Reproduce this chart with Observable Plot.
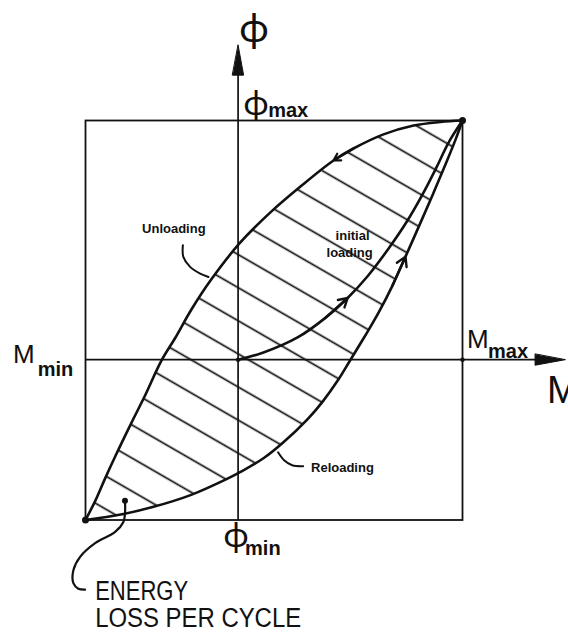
<!DOCTYPE html>
<html>
<head>
<meta charset="utf-8">
<script src="https://cdn.jsdelivr.net/npm/d3@7"></script>
<script src="https://cdn.jsdelivr.net/npm/@observablehq/plot@0.6"></script>
<style>
  html, body { margin: 0; padding: 0; background: #fff; }
  #chart svg { display: block; }
</style>
</head>
<body>
<div id="chart"></div>
<script>
// Moment–curvature hysteresis loop, normalised so that M_max = φ_max = 1.
const M_MIN = -0.68, M_MAX = 1.0;
const PHI_MIN = -0.67, PHI_MAX = 1.0;
const M_AXIS_END = 1.457;    // tip of the M axis arrow
const PHI_AXIS_END = 1.315;  // tip of the φ axis arrow

// Unloading branch: from (M_max, φ_max) down to (M_min, φ_min)
const unloadingM   = [1.0, 0.902, 0.782, 0.648, 0.514, 0.425, 0.278, 0.144, 0.006, -0.123, -0.208, -0.279, -0.341, -0.419, -0.477, -0.542, -0.593, -0.636, -0.68];
const unloadingPhi = [1.0, 0.994, 0.979, 0.942, 0.883, 0.833, 0.724, 0.616, 0.486, 0.331, 0.210, 0.093, -0.003, -0.158, -0.267, -0.393, -0.497, -0.589, -0.67];

// Reloading branch: from (M_min, φ_min) back up to (M_max, φ_max)
const reloadingM   = [-0.68, -0.511, -0.377, -0.212, -0.047, 0.011, 0.113, 0.202, 0.309, 0.376, 0.447, 0.501, 0.564, 0.626, 0.688, 0.746, 0.813, 0.871, 0.924, 0.969, 1.0];
const reloadingPhi = [-0.67, -0.645, -0.615, -0.566, -0.497, -0.469, -0.412, -0.345, -0.249, -0.176, -0.083, 0, 0.097, 0.197, 0.310, 0.431, 0.573, 0.698, 0.816, 0.920, 1.0];

// Initial loading from the origin
const initialM   = [0, 0.113, 0.265, 0.389, 0.488, 0.577, 0.670, 0.755, 0.822, 0.884, 0.938, 1.0];
const initialPhi = [0, 0.030, 0.093, 0.175, 0.258, 0.349, 0.464, 0.582, 0.691, 0.804, 0.908, 1.0];

// Leader lines tying the notes to the curves
const unloadLeaderM   = [-0.246, -0.244, -0.214, -0.169, -0.132];
const unloadLeaderPhi = [0.479, 0.430, 0.388, 0.360, 0.346];
const reloadLeaderM   = [0.178, 0.205, 0.241, 0.290];
const reloadLeaderPhi = [-0.387, -0.420, -0.441, -0.445];
const energyLeaderM   = [-0.504, -0.504, -0.511, -0.548, -0.637, -0.704, -0.734, -0.734, -0.712, -0.682];
const energyLeaderPhi = [-0.590, -0.642, -0.678, -0.720, -0.767, -0.824, -0.880, -0.934, -0.957, -0.961];

// Labels
const bigLabels    = ["M", "M", "M"];              // M_min, M_max, axis title
const bigLabelM    = [-1.003, 1.020, 1.377];
const bigLabelPhi  = [0.023, 0.082, -0.132];
const bigLabelSize = [26, 26, 38];
const subLabels    = ["min", "max", "max", "min"];
const subLabelM    = [-0.893, 1.114, 0.134, 0.031];
const subLabelPhi  = [-0.040, 0.036, 1.041, -0.791];
const phiLabels    = ["ϕ", "ϕ", "ϕ"];              // axis title, φ_max, φ_min
const phiLabelM    = [0.071, 0.080, -0.009];
const phiLabelPhi  = [1.380, 1.067, -0.739];
const phiLabelSize = [40, 34, 34];
const noteLabels   = ["Unloading", "Reloading"];
const noteM        = [-0.428, 0.325];
const notePhi      = [0.546, -0.453];
const initialNote  = ["initial", "loading"];
const initialNoteM = [0.510, 0.497];
const initialNotePhi = [0.517, 0.446];
const energyNote   = ["ENERGY", "LOSS PER CYCLE"];
const energyNoteM  = [-0.637, -0.637];
const energyNotePhi = [-0.967, -1.080];

const pts = (ms, ps) => ms.map((m, i) => ({M: m, phi: ps[i]}));
const unloading = pts(unloadingM, unloadingPhi);
const reloading = pts(reloadingM, reloadingPhi);
const initial = pts(initialM, initialPhi);
const loop = unloading.concat(reloading);
const seg = (p, i, j) => ({x1: p[i].M, y1: p[i].phi, x2: p[j].M, y2: p[j].phi});
const labels = (t, ms, ps, extra) => t.map((s, i) => ({text: s, M: ms[i], phi: ps[i], size: extra ? extra[i] : null}));

// Solid, slender arrowhead for the axes
const arrowHead = {
  draw(context, l) {
    context.moveTo(0, -l);
    context.lineTo(5.5, 0);
    context.lineTo(-5.5, 0);
    context.closePath();
  }
};

const ink = "#111";
const chart = Plot.plot({
  width: 568,
  height: 634,
  marginLeft: 85,
  marginRight: 106,
  marginTop: 120,
  marginBottom: 114.5,
  x: {domain: [M_MIN, M_MAX], axis: null},
  y: {domain: [PHI_MIN, PHI_MAX], axis: null},
  style: {background: "white", overflow: "visible"},
  marks: [
    // hatched area enclosed by the loop = energy lost per cycle
    Plot.line(loop, {x: "M", y: "phi", curve: "catmull-rom", fill: "url(#hatch)", stroke: "none"}),
    Plot.frame({stroke: ink, strokeWidth: 1.8}),
    // axes
    Plot.ruleY([{y: 0, x1: M_MIN, x2: M_AXIS_END - 0.05}], {y: "y", x1: "x1", x2: "x2", stroke: ink, strokeWidth: 1.7}),
    Plot.ruleX([{x: 0, y1: PHI_MIN, y2: PHI_AXIS_END - 0.05}], {x: "x", y1: "y1", y2: "y2", stroke: ink, strokeWidth: 1.7}),
    Plot.vector([{M: M_AXIS_END, phi: 0, rot: 90}, {M: 0, phi: PHI_AXIS_END, rot: 0}],
      {x: "M", y: "phi", rotate: "rot", length: 30, anchor: "end", shape: arrowHead, fill: ink, stroke: ink, strokeWidth: 1}),
    // branches
    Plot.line(unloading, {x: "M", y: "phi", curve: "catmull-rom", stroke: ink, strokeWidth: 2.6}),
    Plot.line(reloading, {x: "M", y: "phi", curve: "catmull-rom", stroke: ink, strokeWidth: 2.6}),
    Plot.line(initial, {x: "M", y: "phi", curve: "catmull-rom", stroke: ink, strokeWidth: 2.6}),
    // direction arrows along the branches
    Plot.arrow([seg(unloading, 4, 5)], {x1: "x1", y1: "y1", x2: "x2", y2: "y2", headLength: 12, stroke: ink, strokeWidth: 2.2}),
    Plot.arrow([seg(initial, 3, 4), seg(reloading, 14, 15)], {x1: "x1", y1: "y1", x2: "x2", y2: "y2", headLength: 15, stroke: ink, strokeWidth: 2.4}),
    // leaders
    Plot.line(pts(unloadLeaderM, unloadLeaderPhi), {x: "M", y: "phi", curve: "catmull-rom", stroke: ink, strokeWidth: 2}),
    Plot.line(pts(reloadLeaderM, reloadLeaderPhi), {x: "M", y: "phi", curve: "catmull-rom", stroke: ink, strokeWidth: 2}),
    Plot.line(pts(energyLeaderM, energyLeaderPhi), {x: "M", y: "phi", curve: "catmull-rom", stroke: ink, strokeWidth: 2.2}),
    // points
    Plot.dot([{M: M_MAX, phi: PHI_MAX}, {M: M_MIN, phi: PHI_MIN}], {x: "M", y: "phi", r: 3.5, fill: ink}),
    Plot.dot([{M: 0, phi: 0}, {M: M_MAX, phi: 0}], {x: "M", y: "phi", r: 2.2, fill: ink}),
    Plot.dot([{M: energyLeaderM[0], phi: energyLeaderPhi[0]}], {x: "M", y: "phi", r: 3, fill: ink}),
    // text
    Plot.text(labels(bigLabels, bigLabelM, bigLabelPhi, bigLabelSize), {x: "M", y: "phi", text: "text", fontSize: "size", textAnchor: "start", fontFamily: "Liberation Sans", fill: ink}),
    Plot.text(labels(subLabels, subLabelM, subLabelPhi), {x: "M", y: "phi", text: "text", fontSize: 20, fontWeight: "bold", textAnchor: "start", fontFamily: "Liberation Sans", fill: ink}),
    Plot.text(labels(phiLabels, phiLabelM, phiLabelPhi, phiLabelSize), {x: "M", y: "phi", text: "text", fontSize: "size", textAnchor: "middle", fontFamily: "Lato", fill: ink}),
    Plot.text(labels(noteLabels, noteM, notePhi), {x: "M", y: "phi", text: "text", fontSize: 13, fontWeight: "bold", textAnchor: "start", fontFamily: "Liberation Sans", fill: ink}),
    Plot.text(labels(initialNote, initialNoteM, initialNotePhi), {x: "M", y: "phi", text: "text", fontSize: 13, fontWeight: "bold", textAnchor: "middle", fontFamily: "Liberation Sans", fill: ink}),
    Plot.text(labels(energyNote, energyNoteM, energyNotePhi), {x: "M", y: "phi", text: "text", fontSize: 27, textAnchor: "start", fontFamily: "Liberation Sans", fill: ink, className: "energy-note"})
  ]
});

// Hatch pattern for the loop: parallel strokes falling to the right at 30°
const svg = d3.select(chart);
const pattern = svg.insert("defs", ":first-child").append("pattern")
  .attr("id", "hatch")
  .attr("patternUnits", "userSpaceOnUse")
  .attr("width", 60)
  .attr("height", 28.67)
  .attr("patternTransform", "rotate(30)");
pattern.append("line")
  .attr("x1", 0).attr("x2", 60)
  .attr("y1", 15.1).attr("y2", 15.1)
  .attr("stroke", ink)
  .attr("stroke-width", 1.7);

// Narrow lettering for the energy note
const noteWidths = [93, 206];
svg.selectAll(".energy-note text")
  .attr("textLength", (d, i) => noteWidths[i])
  .attr("lengthAdjust", "spacingAndGlyphs");

document.getElementById("chart").appendChild(chart);
</script>
</body>
</html>
